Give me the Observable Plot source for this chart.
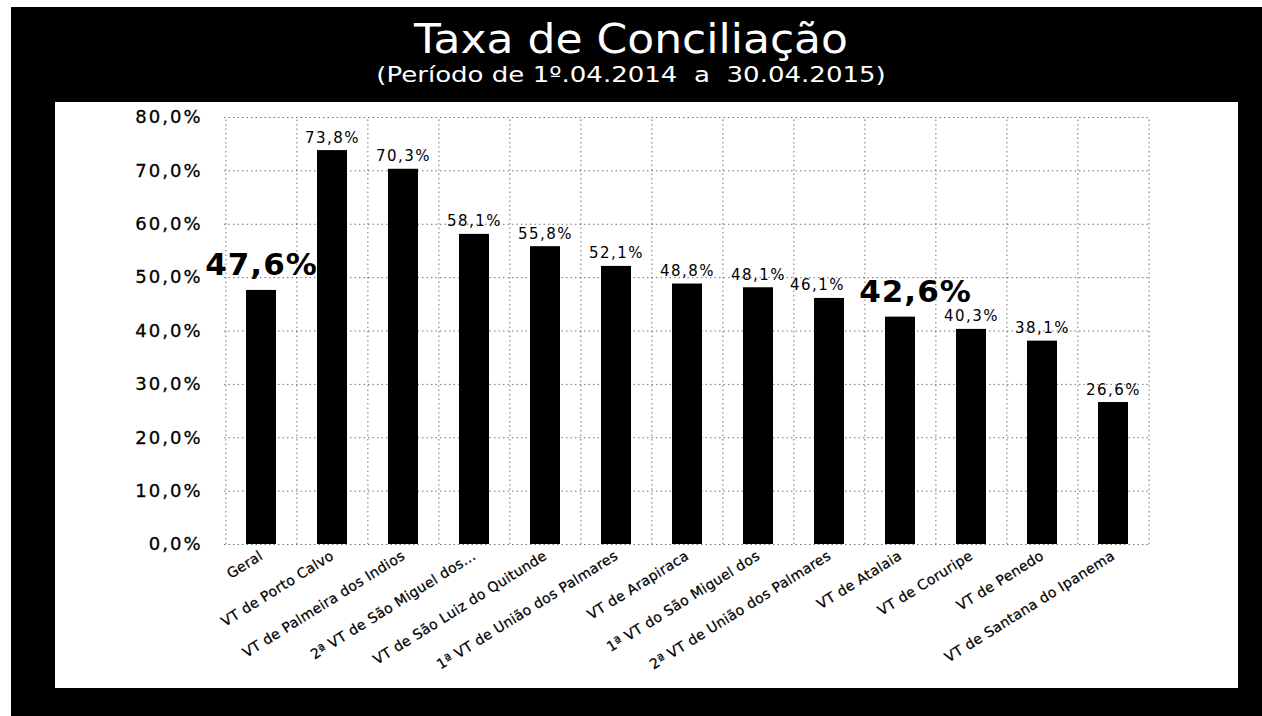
<!DOCTYPE html>
<html>
<head>
<meta charset="utf-8">
<script src="https://cdn.jsdelivr.net/npm/d3@7"></script>
<script src="https://cdn.jsdelivr.net/npm/@observablehq/plot@0.6"></script>
<style>
  html, body { margin: 0; padding: 0; background: #fff; width: 1262px; height: 716px; overflow: hidden; }
  #frame { position: absolute; left: 11px; top: 7px; width: 1251px; height: 709px; background: #000; }
  #title { position: absolute; left: 0; width: 1240px; top: 12px; text-align: center; color: #fff;
           font-family: "DejaVu Sans", sans-serif; font-size: 40px; line-height: 40px; transform: scaleX(1.1); white-space: pre; }
  #subtitle { position: absolute; left: 0; width: 1240px; top: 58px; text-align: center; color: #fff;
           font-family: "DejaVu Sans", sans-serif; font-size: 21px; line-height: 21px; transform: scaleX(1.24); white-space: pre; }
  #panel { position: absolute; left: 44px; top: 95px; width: 1183px; height: 586px; background: #fff; }
  #panel svg { display: block; color: #000; font-family: "DejaVu Sans", sans-serif; }
  g[aria-label="y-axis tick label"] text { letter-spacing: 2px; stroke: #000; stroke-width: 0.3px; }
  g[aria-label="x-axis tick label"] text { letter-spacing: 0.3px; stroke: #000; stroke-width: 0.25px; }
  .vlabel text { letter-spacing: 1.5px; }
  .biglabel text { letter-spacing: 1px; }
</style>
</head>
<body>
<div id="frame">
  <div id="title">Taxa de Conciliação</div>
  <div id="subtitle">(Período de 1º.04.2014  a  30.04.2015)</div>
  <div id="panel"></div>
</div>
<script>
// ---- data ----
const categories = [
  "Geral",
  "VT de Porto Calvo",
  "VT de Palmeira dos Indios",
  "2ª VT de São Miguel dos...",
  "VT de São Luiz do Quitunde",
  "1ª VT de União dos Palmares",
  "VT de Arapiraca",
  "1ª VT do São Miguel dos",
  "2ª VT de União dos Palmares",
  "VT de Atalaia",
  "VT de Coruripe",
  "VT de Penedo",
  "VT de Santana do Ipanema"
];
const values = [47.6, 73.8, 70.3, 58.1, 55.8, 52.1, 48.8, 48.1, 46.1, 42.6, 40.3, 38.1, 26.6];
const highlighted = ["Geral", "VT de Atalaia"];
const yTicks = [0, 10, 20, 30, 40, 50, 60, 70, 80];

const data = categories.map((c, i) => ({name: c, value: values[i]}));
const fmtPct = v => v.toFixed(1).replace(".", ",") + "%";

// ---- layout ----
const W = 1183, H = 586;
const mL = 169, mR = 88, mT = 15, mB = 144;
const step = (W - mL - mR) / categories.length;
const pad = 0.58;
const grid = {stroke: "#000", strokeWidth: 1, strokeDasharray: "1.5,3", strokeOpacity: 0.55};

const isHi = d => highlighted.includes(d.name);
const small = data.filter(d => !isHi(d));
const smallBeforeHi = small.filter(d => categories.indexOf(d.name) === categories.indexOf(highlighted[1]) - 1);
const smallRest = small.filter(d => !smallBeforeHi.includes(d));
const smallOpts = {x: "name", y: "value", text: d => fmtPct(d.value),
  lineAnchor: "bottom", dy: -8, fontSize: 15, fill: "#000", className: "vlabel"};
const bigOpts = {x: "name", y: "value", text: d => fmtPct(d.value),
  lineAnchor: "bottom", dy: -15, fontSize: 31, fontWeight: "bold", fill: "#000", className: "biglabel"};

const chart = Plot.plot({
  width: W,
  height: H,
  marginLeft: mL,
  marginRight: mR,
  marginTop: mT,
  marginBottom: mB,
  style: {background: "#fff", color: "#000"},
  x: {domain: categories, paddingInner: pad, paddingOuter: pad / 2, label: null},
  y: {domain: [0, 80], label: null},
  marks: [
    Plot.ruleY(yTicks, grid),
    Plot.ruleX(categories, {x: d => d, y1: 0, y2: 80, dx: -step / 2, ...grid}),
    Plot.ruleX(categories.slice(-1), {x: d => d, y1: 0, y2: 80, dx: step / 2, ...grid}),
    Plot.barY(data, {x: "name", y: "value", fill: "#000"}),
    Plot.text(smallRest, smallOpts),
    Plot.text(smallBeforeHi, {...smallOpts, dx: -12}),
    Plot.text(data.filter(d => d.name === highlighted[0]), bigOpts),
    Plot.text(data.filter(d => d.name === highlighted[1]), {...bigOpts, dx: 15}),
    Plot.axisY({ticks: yTicks, tickFormat: fmtPct, tickSize: 0, tickPadding: 22, fontSize: 18, label: null}),
    Plot.axisX({tickRotate: -32, tickSize: 0, tickPadding: 10, fontSize: 14, label: null})
  ]
});
document.getElementById("panel").appendChild(chart);
</script>
</body>
</html>
